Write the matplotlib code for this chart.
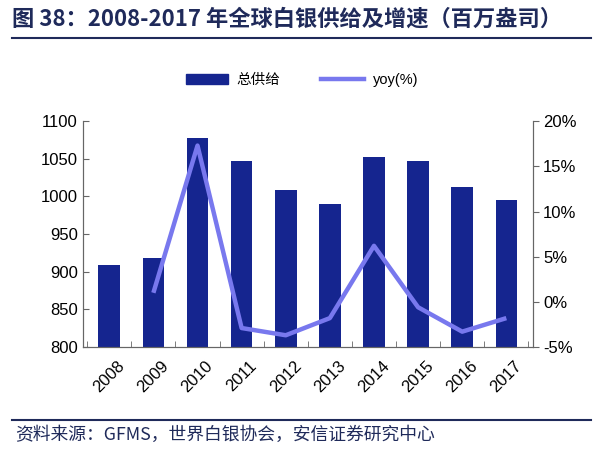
import matplotlib
matplotlib.use("Agg")
from matplotlib import pyplot as plt
from matplotlib.lines import Line2D
import numpy as np

plt.rcParams['font.family'] = ['Liberation Sans', 'Noto Sans CJK SC', 'DejaVu Sans']

years = ['2008', '2009', '2010', '2011', '2012', '2013', '2014', '2015', '2016', '2017']
supply = [909, 918, 1078, 1047, 1008, 990, 1053, 1047, 1012, 995]
yoy_years = years[1:]
yoy = [1.0, 17.3, -2.9, -3.7, -1.8, 6.2, -0.6, -3.3, -1.8]

bar_color = '#15258F'
line_color = '#7878EE'
text_color = '#1F2A5A'

fig = plt.figure(figsize=(6, 4.59), dpi=100)
ax = fig.add_axes([0.138, 0.244, 0.75, 0.492])
ax2 = ax.twinx()

x = np.arange(len(years))
ax.bar(x, supply, width=0.49, color=bar_color, zorder=2)
ax.set_ylim(800, 1100)
ax.set_yticks(range(800, 1101, 50))
ax.set_xlim(-0.6, len(years) - 0.4)
ax.set_xticks(x)
ax.set_xticklabels(years, rotation=45, fontsize=12)
ax.set_xticks(np.arange(-0.5, len(years), 1), minor=True)
ax.tick_params(axis='x', which='major', length=0, pad=8)
ax.tick_params(axis='x', which='minor', length=4, direction='in', color='#666666')
ax.tick_params(axis='y', direction='in', length=4, labelsize=12, color='#666666')

yx = [years.index(y) for y in yoy_years]
ax2.plot(yx, yoy, color=line_color, lw=3.2, zorder=3, solid_capstyle='butt')
ax2.set_ylim(-5, 20)
ax2.set_yticks(range(-5, 21, 5))
ax2.set_yticklabels([f'{v}%' for v in range(-5, 21, 5)])
ax2.tick_params(axis='y', direction='out', length=4, labelsize=12, color='#666666')

for a in (ax, ax2):
    a.spines['top'].set_visible(False)
    for s in ('left', 'right', 'bottom'):
        a.spines[s].set_color('#666666')
        a.spines[s].set_linewidth(0.8)
ax.set_zorder(1)
ax2.set_zorder(2)
ax2.patch.set_visible(False)

handles = [plt.Rectangle((0, 0), 1, 1, color=bar_color),
           Line2D([0], [0], color=line_color, lw=3.2)]
fig.legend(handles, ['总供给', 'yoy(%)'], loc='center', bbox_to_anchor=(0.503, 0.826),
           ncol=2, frameon=False, fontsize=10.5, handlelength=2.9, columnspacing=2.8,
           handletextpad=0.6)

fig.text(0.02, 0.958, '图 38：2008-2017 年全球白银供给及增速（百万盎司）',
         fontsize=16, fontweight='bold', color=text_color, va='center',
         family=['Noto Sans CJK SC', 'DejaVu Sans'])
fig.add_artist(Line2D([0.02, 0.985], [0.918, 0.918], color=text_color, lw=1.5))
fig.add_artist(Line2D([0.02, 0.985], [0.085, 0.085], color=text_color, lw=1.5))
fig.text(0.025, 0.052, '资料来源：GFMS，世界白银协会，安信证券研究中心',
         fontsize=12.8, style='italic', color=text_color, va='center',
         family=['Noto Sans CJK SC', 'DejaVu Sans'])

fig.savefig('out.png', dpi=100)
